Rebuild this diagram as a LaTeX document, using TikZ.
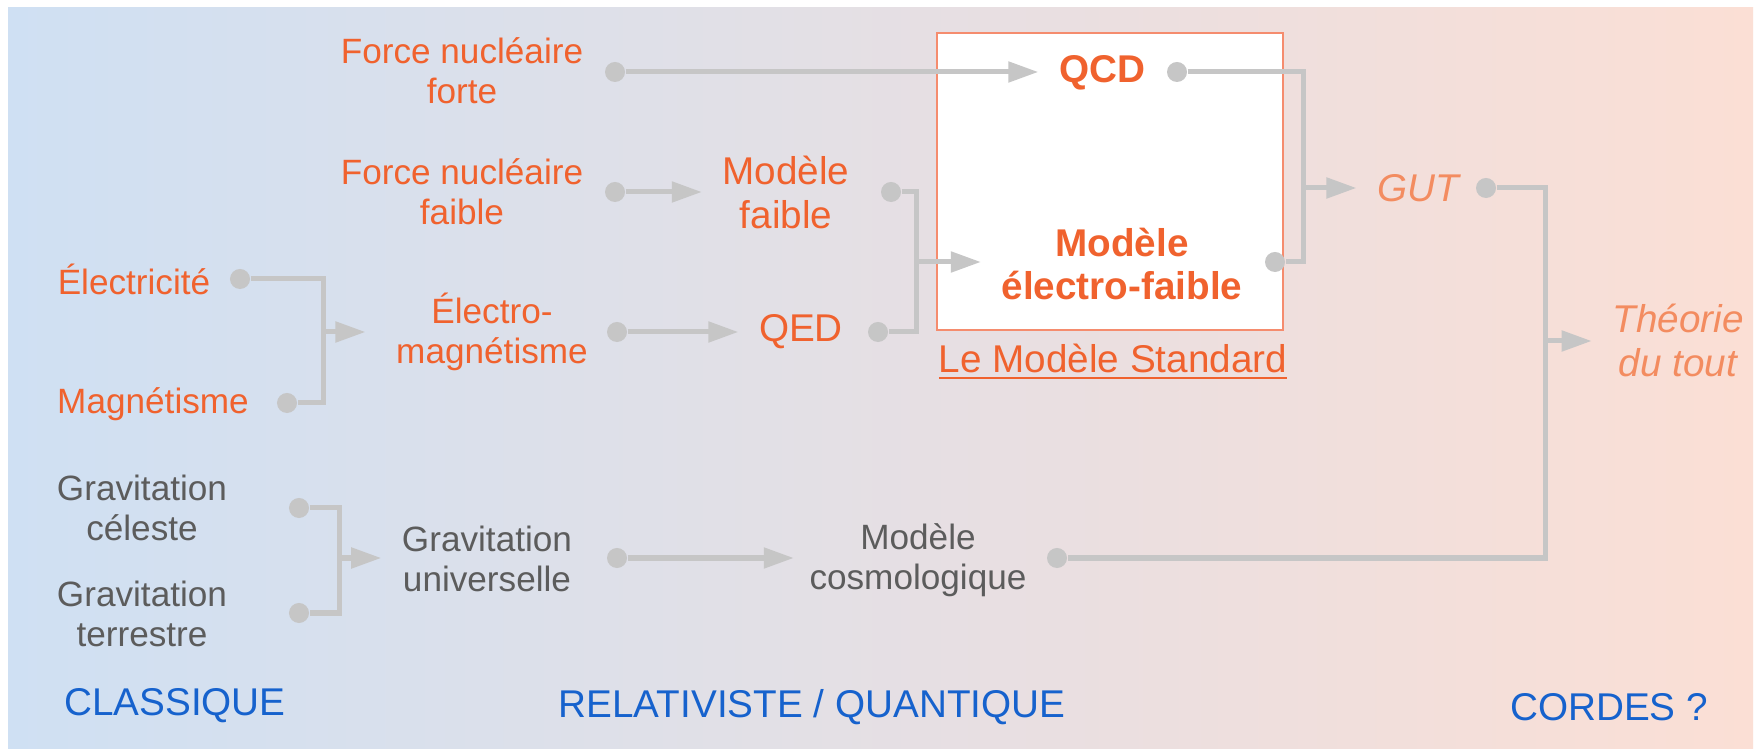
\documentclass[tikz,border=0pt]{standalone}
\usepackage{fontspec}
\setmainfont{Liberation Sans}
\usepackage{tikz}
\usetikzlibrary{arrows.meta}
\definecolor{bgblue}{RGB}{207,224,243}
\definecolor{bgmid}{RGB}{226,224,232}
\definecolor{bgpeach}{RGB}{251,223,213}
\definecolor{hotorange}{RGB}{240,98,46}
\definecolor{paleorange}{RGB}{243,140,96}
\definecolor{greytext}{RGB}{92,92,92}
\definecolor{erablue}{RGB}{22,98,205}
\definecolor{wiregrey}{RGB}{198,198,198}
\definecolor{boxline}{RGB}{245,140,110}
\tikzset{
  font={\fontsize{10pt}{11.5pt}\selectfont},
  lbl/.style={align=center,inner sep=0pt},
  hot/.style={lbl,text=hotorange},
  pale/.style={lbl,text=paleorange,font={\fontsize{11pt}{12.5pt}\selectfont\itshape}},
  grey/.style={lbl,text=greytext},
  big/.style={font={\fontsize{11pt}{12.5pt}\selectfont}},
  bigbold/.style={font={\fontsize{11pt}{12.5pt}\selectfont\bfseries}},
  era/.style={lbl,text=erablue,font={\fontsize{11pt}{12.5pt}\selectfont}},
  knob/.style={circle,fill=wiregrey,inner sep=0pt,minimum size=0.2cm},
  wire/.style={draw=wiregrey,line width=0.05cm},
  arr/.style={wire,-{Triangle[length=0.3cm,width=0.2cm]},shorten >=0.2cm},
  smbox/.style={draw=boxline,line width=0.6pt,fill=white,minimum width=3.46cm,minimum height=2.97cm}}

\begin{document}
\begin{tikzpicture}[x=0.01cm,y=-0.01cm]
\fill[white] (0,0) rectangle (1763,749);
\useasboundingbox (0,0) rectangle (1763,749);
\shade[left color=bgblue,middle color=bgmid,right color=bgpeach] (8,8) rectangle (1753,749);
\node[smbox] (sm) at (1110,181.5) {};
\node[hot,big] (smlbl) at (1113,362) {\underline{Le Modèle Standard}};
\node[hot] (fnf) at (462,71) {Force nucléaire\\forte};
\node[hot] (fnw) at (462,192) {Force nucléaire\\faible};
\node[hot] (elec) at (134,279) {Électricité};
\node[hot] (mag) at (153,404) {Magnétisme};
\node[hot] (em) at (492,332) {Électro-\\magnétisme};
\node[hot,big] (mf) at (786,192) {Modèle\\faible};
\node[hot,big] (qed) at (801,332) {QED};
\node[hot,bigbold] (qcd) at (1102,73) {QCD};
\node[hot,bigbold] (ew) at (1122,264) {Modèle\\électro-faible};
\node[pale] (gut) at (1418,188) {GUT};
\node[pale] (tdt) at (1678,340) {Théorie\\du tout};
\node[grey] (gc) at (142,508) {Gravitation\\céleste};
\node[grey] (gt) at (142,614) {Gravitation\\terrestre};
\node[grey] (gu) at (487,559) {Gravitation\\universelle};
\node[grey] (mc) at (918,560) {Modèle\\cosmologique};
\node[era] (cl) at (175,706) {CLASSIQUE};
\node[era] (rq) at (812,707) {RELATIVISTE / QUANTIQUE};
\node[era] (co) at (1609,707) {CORDES ?};
\node[knob] (fnfd) at (615,72) {};
\node[knob] (fnwd) at (615,192) {};
\node[knob] (elecd) at (240,279) {};
\node[knob] (magd) at (287,403) {};
\node[knob] (emd) at (617,332) {};
\node[knob] (mfd) at (891,192) {};
\node[knob] (qedd) at (878,332) {};
\node[knob] (qcdd) at (1177,72) {};
\node[knob] (ewd) at (1275,262) {};
\node[knob] (gutd) at (1486,188) {};
\node[knob] (gcd) at (299,508) {};
\node[knob] (gtd) at (299,613) {};
\node[knob] (gud) at (617,558) {};
\node[knob] (mcd) at (1057,558) {};
\coordinate (emj) at (323,332);
\coordinate (ewj) at (916,262);
\coordinate (gutj) at (1303,188);
\coordinate (tdtj) at (1545,341);
\coordinate (guj) at (339,558);
\draw[wire] (elecd) -| (emj) |- (magd);
\draw[arr,shorten >=0.3cm] (emj) -- (emj -| em.west);
\draw[arr] (fnfd) -- (fnfd -| qcd.west);
\draw[arr] (fnwd) -- (fnwd -| mf.west);
\draw[arr] (emd) -- (emd -| qed.west);
\draw[wire] (mfd) -| (ewj) |- (qedd);
\draw[arr] (ewj) -- (ewj -| ew.west);
\draw[wire] (qcdd) -| (gutj) |- (ewd);
\draw[arr] (gutj) -- (gutj -| gut.west);
\draw[wire] (gutd) -| (tdtj) |- (mcd);
\draw[arr] (tdtj) -- (tdtj -| tdt.west);
\draw[wire] (gcd) -| (guj) |- (gtd);
\draw[arr] (guj) -- (guj -| gu.west);
\draw[arr,shorten >=0.15cm] (gud) -- (gud -| mc.west);
\end{tikzpicture}
\end{document}
